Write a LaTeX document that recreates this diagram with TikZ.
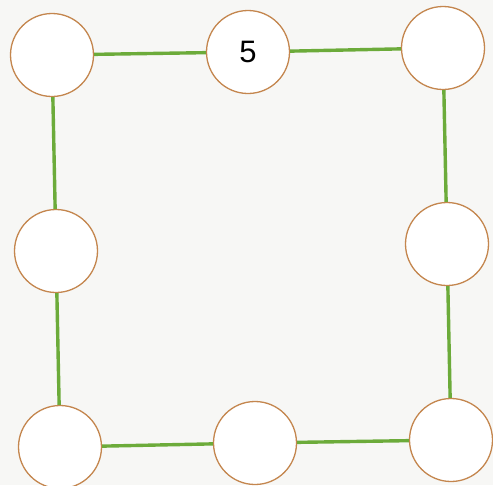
\documentclass[tikz,border=0pt]{standalone}
\usepackage{fontspec}
\setmainfont{Liberation Sans}
\usetikzlibrary{positioning}
\definecolor{paper}{HTML}{F7F7F5}
\definecolor{rim}{HTML}{C4864E}
\definecolor{leaf}{HTML}{6CAB3A}

\begin{document}
\begin{tikzpicture}[
  x=1pt, y=-1pt,
  ring/.style={draw=rim, fill=white, line width=1.3pt,
               circle, minimum size=83pt, inner sep=0pt,
               font=\fontsize{31}{31}\selectfont},
  link/.style={draw=leaf, line width=3.4pt},
]
\fill[paper] (0,0) rectangle (493,485);
\useasboundingbox (0,0) rectangle (493,485);

% corners and middles of the square
\node[ring] (tl) at (52,55) {};
\node[ring] (tm) at (248,52) {5};
\node[ring] (tr) at (443,48) {};
\node[ring] (ml) at (56,251) {};
\node[ring] (mr) at (447,244) {};
\node[ring] (bl) at (60,447) {};
\node[ring] (bm) at (255,443) {};
\node[ring] (br) at (451,440) {};

\draw[link] (tl) -- (tm);
\draw[link] (tm) -- (tr);
\draw[link] (tr) -- (mr);
\draw[link] (mr) -- (br);
\draw[link] (br) -- (bm);
\draw[link] (bm) -- (bl);
\draw[link] (bl) -- (ml);
\draw[link] (ml) -- (tl);
\end{tikzpicture}
\end{document}
